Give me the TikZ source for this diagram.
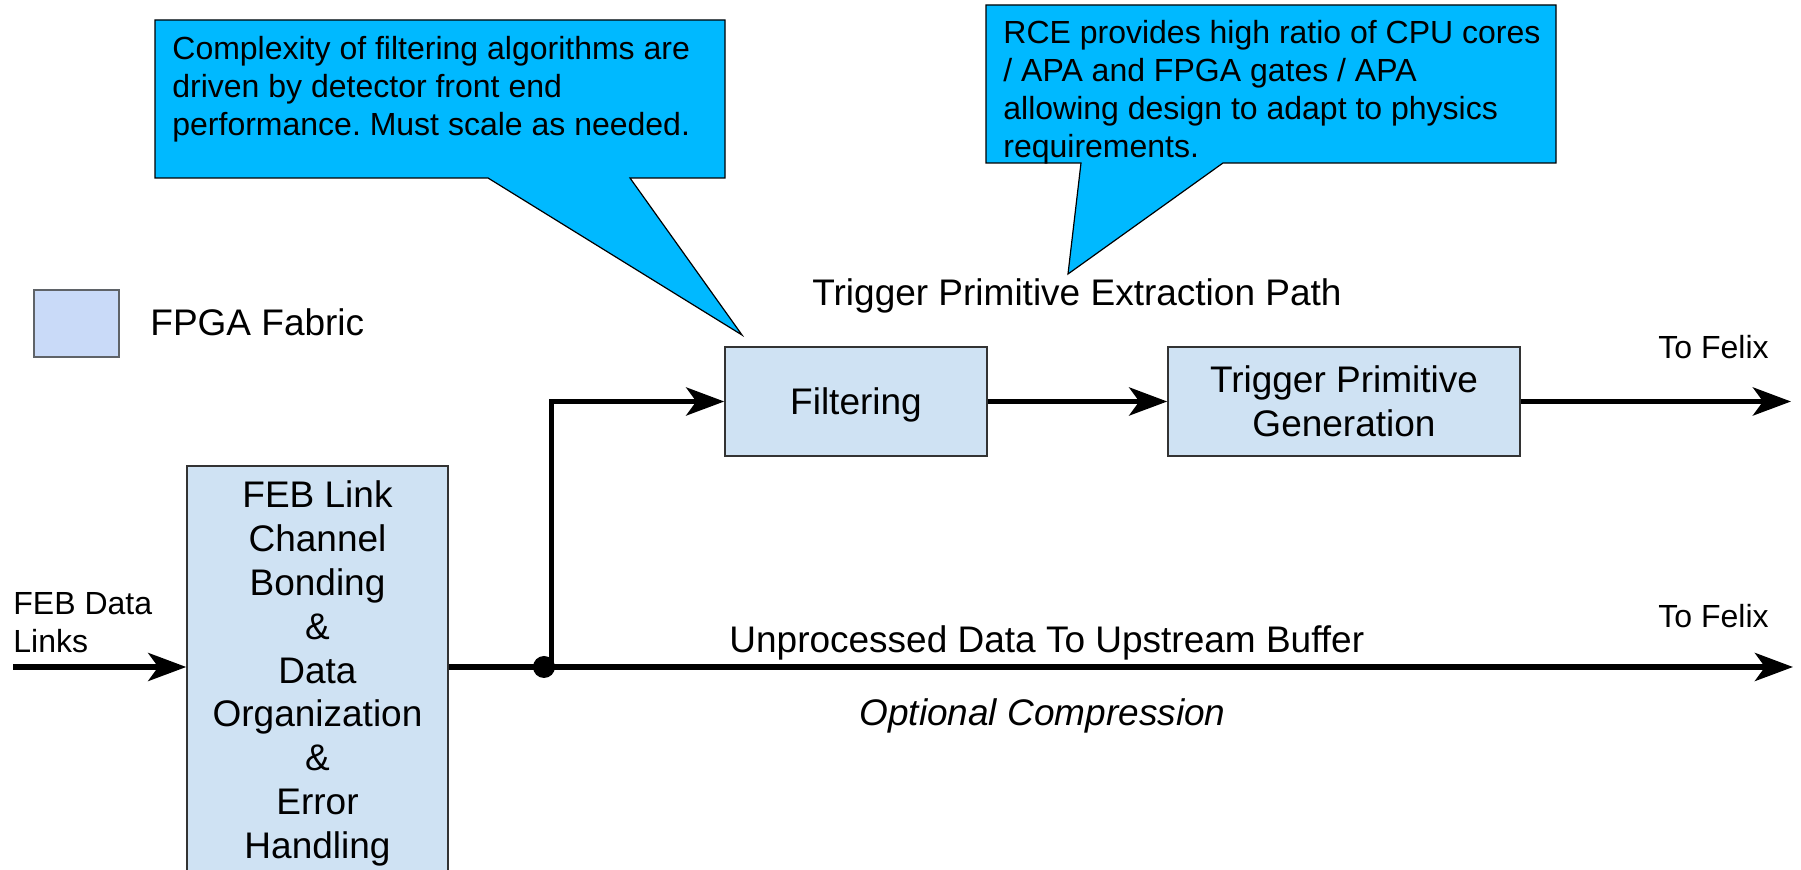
\documentclass[tikz,border=0pt]{standalone}
\usepackage{fontspec}
\setmainfont{Liberation Sans}
\usetikzlibrary{arrows.meta}
\frenchspacing

\definecolor{calloutfill}{RGB}{0,185,255}
\definecolor{fabricfill}{HTML}{CFE2F3}
\definecolor{boxline}{HTML}{333333}
\definecolor{legendfill}{HTML}{C9DAF8}
\definecolor{legendline}{HTML}{5F6368}

\tikzset{
  fabric/.style={draw=boxline, fill=fabricfill, line width=0.75pt, inner sep=0pt,
    align=center, font=\fontsize{18.5pt}{21.95pt}\selectfont},
  flow/.style={line width=2.75pt, -{Stealth[length=19pt,width=14pt,inset=5pt]}},
  bigtext/.style={font=\fontsize{18.5pt}{22pt}\selectfont, inner sep=0pt},
  smalltext/.style={font=\fontsize{16pt}{19pt}\selectfont, inner sep=0pt},
  callout/.style={draw=black, fill=calloutfill, line width=0.6pt, line join=miter},
}

\begin{document}
\begin{tikzpicture}[x=0.5pt, y=-0.5pt]
  \useasboundingbox (0,0) rectangle (1801,870);
  \fill[white] (0,0) rectangle (1801,870);
  \clip (0,0) rectangle (1801,870);

  % callouts
  \draw[callout] (155,20) -- (725,20) -- (725,178) -- (630,178) -- (742,335)
    -- (488,178) -- (155,178) -- cycle;
  \node[smalltext, align=left, anchor=north west] (note1) at (172,35.5)
    {Complexity of filtering algorithms are\\driven by detector front end\\performance. Must scale as needed.};

  \draw[callout] (986,5) -- (1556,5) -- (1556,163) -- (1223,163) -- (1068,274)
    -- (1081,163) -- (986,163) -- cycle;
  \node[smalltext, align=left, anchor=north west] (note2) at (1003,19.6)
    {RCE provides high ratio of CPU cores\\/ APA and FPGA gates / APA\\allowing design to adapt to physics\\requirements.};

  % legend
  \node[draw=legendline, fill=legendfill, line width=0.75pt, inner sep=0pt,
    minimum width=42.5pt, minimum height=33.5pt] (legend) at (76.5,323.5) {};
  \node[bigtext, anchor=base west] (legendlabel) at (150,336) {FPGA Fabric};

  % processing blocks
  \node[fabric, text depth=0pt, minimum width=131pt, minimum height=54.5pt] (filt) at (856,401.5) {Filtering};
  \node[fabric, minimum width=176pt, minimum height=54.5pt] (tpg) at (1344,401.5)
    {Trigger Primitive\\Generation};
  \node[fabric, minimum width=130.5pt, minimum height=207.5pt] (feb) at (317.5,673.5)
    {FEB Link\\Channel\\Bonding\\\&\\Data\\Organization\\\&\\Error\\Handling};

  % labels
  \node[bigtext, anchor=base west] (tpepath) at (812,306) {Trigger Primitive Extraction Path};
  \node[bigtext, anchor=base west] (rawlabel) at (729,653) {Unprocessed Data To Upstream Buffer};
  \node[bigtext, anchor=base west] (complabel) at (859,726) {\itshape Optional Compression};
  \node[smalltext, anchor=base west] (felix1) at (1658,359) {To Felix};
  \node[smalltext, anchor=base west] (felix2) at (1658,628) {To Felix};
  \node[smalltext, align=left, anchor=north west] (feblinks) at (13,592)
    {FEB Data\\Links};

  % connectors
  \coordinate (in) at (13,667);
  \coordinate (split) at (544,667);
  \coordinate (riser) at (551.5,667);
  \coordinate (out1) at (1791,401.5);
  \coordinate (out2) at (1793,667);

  \draw[flow] (in) -- (in -| feb.west);
  \draw[flow] (split -| feb.east) -- (out2);
  \draw[flow] (riser) |- (filt.west);
  \draw[flow] (filt.east) -- (tpg.west);
  \draw[flow] (tpg.east) -- (out1);
  \node[circle, fill=black, inner sep=0pt, minimum size=11pt] (dot) at (split) {};
\end{tikzpicture}
\end{document}
